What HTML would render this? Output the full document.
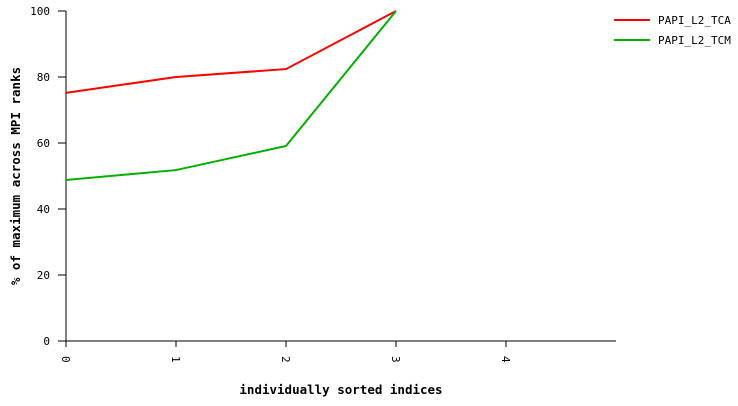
<!DOCTYPE html>
<html><head><meta charset="utf-8"><style>
body{margin:0;background:#fff;}
svg{display:block;font-family:"DejaVu Sans Mono","Liberation Mono",monospace;}
</style></head><body>
<svg id="chart" width="738" height="406" viewBox="0 0 738 406" xmlns="http://www.w3.org/2000/svg">
<g id="axes"></g>
<g id="series"></g>
<text x="341" y="394" text-anchor="middle" font-size="12.5" font-weight="bold">individually sorted indices</text>
<text transform="translate(20,176) rotate(-90)" text-anchor="middle" font-size="12.5" font-weight="bold">% of maximum across MPI ranks</text>
<g>
<line x1="614" y1="20" x2="650" y2="20" stroke="#ff0000" stroke-width="2"/>
<text x="658" y="24" font-size="11">PAPI_L2_TCA</text>
<line x1="614" y1="40" x2="650" y2="40" stroke="#00b000" stroke-width="2"/>
<text x="658" y="44" font-size="11">PAPI_L2_TCM</text>
</g>
</svg>
<script>
const indices=[0,1,2,3];
const tcaValues=[75.2,80,82.4,100];
const tcmValues=[48.8,51.8,59.1,100];
const xTicks=[0,1,2,3,4];
const yTicks=[0,20,40,60,80,100];
const NS="http://www.w3.org/2000/svg";
function xs(v){return 66+v*110;}
function ys(v){return 341-v*3.3;}
function mk(tag,attrs,parent){const e=document.createElementNS(NS,tag);for(const k in attrs)e.setAttribute(k,attrs[k]);parent.appendChild(e);return e;}
const ax=document.getElementById('axes');
let l=mk('line',{x1:66,y1:ys(100),x2:66,y2:341,stroke:'#000','stroke-width':1},ax);


l=mk('line',{x1:58,y1:341,x2:616,y2:341,stroke:'#000','stroke-width':1},ax);


yTicks.forEach(t=>{
 const tk=mk('line',{x1:58,y1:ys(t),x2:66,y2:ys(t),stroke:'#000'},ax);
 
 
 const tx=mk('text',{x:50,y:ys(t)+4,'text-anchor':'end','font-size':11},ax);
 tx.textContent=t;
 
 
});
xTicks.forEach(t=>{
 const tk=mk('line',{x1:xs(t),y1:341,x2:xs(t),y2:347,stroke:'#000'},ax);
 
 
 const tx=mk('text',{transform:`translate(${xs(t)-4},356) rotate(90)`,'text-anchor':'start','font-size':11},ax);
 tx.textContent=t;
 
 
});
const sg=document.getElementById('series');
function line(vals,color,name){
 const p=mk('polyline',{points:vals.map((v,i)=>xs(indices[i])+','+ys(v)).join(' '),fill:'none',stroke:color,'stroke-width':2},sg);
 
 
}
line(tcaValues,'#ff0000','series-papi-l2-tca');
line(tcmValues,'#00b000','series-papi-l2-tcm');
</script>
</body></html>
